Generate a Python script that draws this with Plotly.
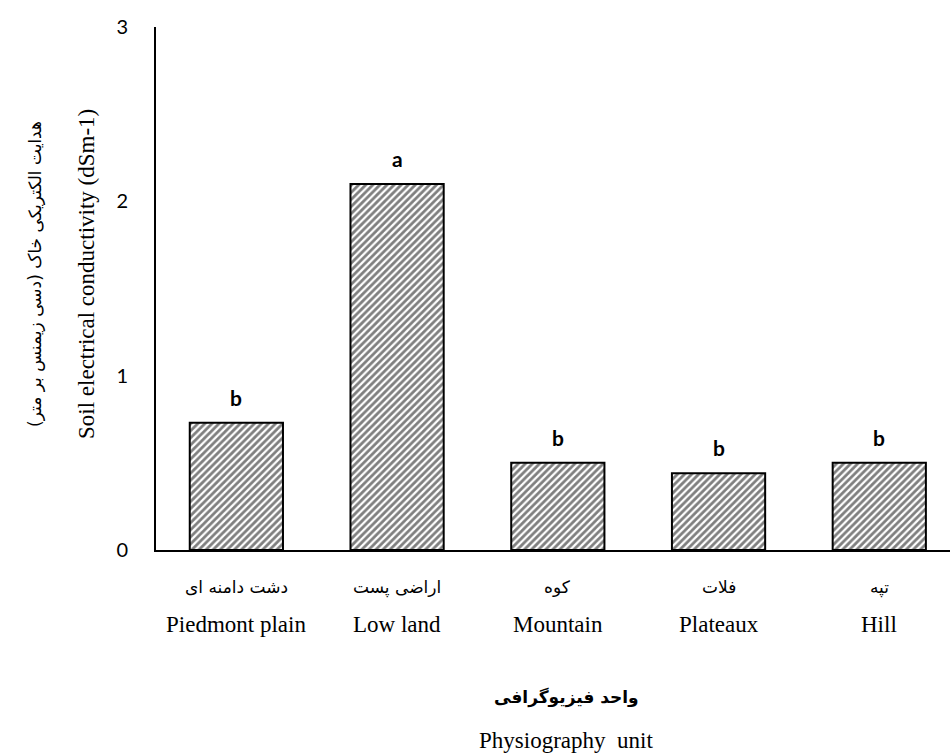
import plotly.graph_objects as go

# Physiography units (Persian / English) and mean soil EC
units_fa = ["دشت دامنه ای", "اراضی پست", "کوه", "فلات", "تپه"]
units_en = ["Piedmont plain", "Low land", "Mountain", "Plateaux", "Hill"]
ec_values = [0.73, 2.10, 0.50, 0.44, 0.50]
group_letters = ["b", "a", "b", "b", "b"]
y_ticks = [0, 1, 2, 3]

W, H = 950, 755
M_L, M_R, M_T, M_B = 156, 0, 27, 205
plot_w = W - M_L - M_R
plot_h = H - M_T - M_B


def px_x(px):
    return (px - M_L) / plot_w


def px_y(py):
    return (H - M_B - py) / plot_h


SERIF = "'Times New Roman', 'Liberation Serif', serif"
FA_FONT = "'DejaVu Sans', sans-serif"
SANS = "Lato, 'Liberation Sans', sans-serif"

x_idx = list(range(len(units_en)))

fig = go.Figure()
fig.add_trace(go.Bar(
    x=x_idx,
    y=ec_values,
    width=0.58,
    marker=dict(
        color="white",
        line=dict(color="black", width=2),
        pattern=dict(shape="/", fgcolor="black", bgcolor="white",
                     size=5, solidity=0.55),
    ),
    hoverinfo="skip",
))

annotations = []
# significance letters above bars
for i, (v, letter) in enumerate(zip(ec_values, group_letters)):
    annotations.append(dict(
        x=i, y=v, xref="x", yref="y", text=f"<b>{letter}</b>",
        showarrow=False, yanchor="bottom", yshift=11,
        font=dict(family=SANS, size=21, color="black"),
    ))

# two-line category labels
for i, (fa, en) in enumerate(zip(units_fa, units_en)):
    annotations.append(dict(
        x=i, y=px_y(587), xref="x", yref="paper", text=fa,
        showarrow=False, xanchor="center", yanchor="middle",
        font=dict(family=FA_FONT, size=17, color="black"),
    ))
    annotations.append(dict(
        x=i, y=px_y(624), xref="x", yref="paper", text=en,
        showarrow=False, xanchor="center", yanchor="middle",
        font=dict(family=SERIF, size=23, color="black"),
    ))

# x-axis titles
annotations.append(dict(
    x=px_x(566), y=px_y(697), xref="paper", yref="paper",
    text="<b>واحد فیزیوگرافی</b>", showarrow=False,
    xanchor="center", yanchor="middle",
    font=dict(family=FA_FONT, size=17, color="black"),
))
annotations.append(dict(
    x=px_x(566), y=px_y(741), xref="paper", yref="paper",
    text="Physiography  unit", showarrow=False,
    xanchor="center", yanchor="middle",
    font=dict(family=SERIF, size=23, color="black"),
))

# y-axis titles
annotations.append(dict(
    x=px_x(35), y=px_y(274), xref="paper", yref="paper",
    text="هدایت الکتریکی خاک (دسی زیمنس بر متر)", showarrow=False,
    xanchor="center", yanchor="middle",
    textangle=-90, font=dict(family=FA_FONT, size=17, color="black"),
))
annotations.append(dict(
    x=px_x(86), y=px_y(274), xref="paper", yref="paper",
    text="Soil electrical conductivity (dSm-1)", showarrow=False,
    xanchor="center", yanchor="middle",
    textangle=-90, font=dict(family=SERIF, size=23, color="black"),
))

fig.update_layout(
    width=W, height=H,
    margin=dict(l=M_L, r=M_R, t=M_T, b=M_B, pad=0),
    paper_bgcolor="white", plot_bgcolor="white",
    showlegend=False,
    bargap=0.42,
    annotations=annotations,
    xaxis=dict(
        range=[-0.5, 4.44], showticklabels=False, showgrid=False,
        zeroline=False, showline=True, linecolor="black", linewidth=2,
        ticks="", fixedrange=True,
    ),
    yaxis=dict(
        range=[0, 3], tickvals=y_ticks, ticktext=[str(t) for t in y_ticks],
        showgrid=False, zeroline=False, showline=True, linecolor="black",
        linewidth=2, ticks="", ticklabelstandoff=22,
        tickfont=dict(family=SANS, size=20, color="black"),
    ),
)

fig.write_html("out.html")
